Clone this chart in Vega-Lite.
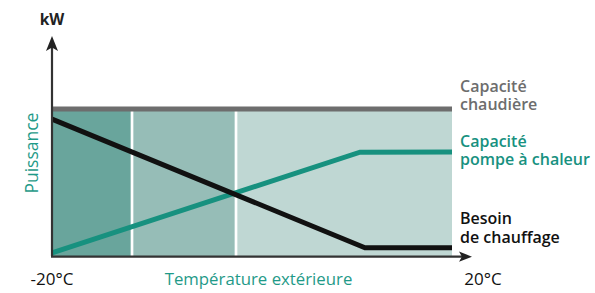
{
  "$schema": "https://vega.github.io/schema/vega-lite/v6.json",
  "width": 420,
  "height": 218,
  "autosize": {"type": "none"},
  "padding": {"left": 52, "top": 38, "right": 123, "bottom": 37},
  "background": "white",
  "config": {"view": {"stroke": null}, "text": {"font": "Open Sans"}},
  "datasets": {
    "zones": [
      {"x": -20, "x2": -12, "y": 0, "y2": 66.5, "s": "a"},
      {"x": -12, "x2": -1.6, "y": 0, "y2": 66.5, "s": "b"},
      {"x": -1.6, "x2": 20, "y": 0, "y2": 66.5, "s": "c"}
    ],
    "seps": [{"x": -12, "y": 0, "y2": 66.5}, {"x": -1.6, "y": 0, "y2": 66.5}],
    "lines": [
      {"s": "chaudiere", "o": 0, "x": -20, "y": 67.4},
      {"s": "chaudiere", "o": 1, "x": 20, "y": 67.4},
      {"s": "pac", "o": 0, "x": -20, "y": 1.4},
      {"s": "pac", "o": 1, "x": 10.8, "y": 47.6},
      {"s": "pac", "o": 2, "x": 20, "y": 47.7},
      {"s": "besoin", "o": 0, "x": -20, "y": 62.8},
      {"s": "besoin", "o": 1, "x": 11.3, "y": 3.8},
      {"s": "besoin", "o": 2, "x": 20, "y": 3.8}
    ],
    "labels": [
      {"s": "chaudiere", "x": 20.8, "y": 75.2, "t": "Capacité"},
      {"s": "chaudiere", "x": 20.8, "y": 67.0, "t": "chaudière"},
      {"s": "pac", "x": 20.8, "y": 50.0, "t": "Capacité"},
      {"s": "pac", "x": 20.8, "y": 41.7, "t": "pompe à chaleur"},
      {"s": "besoin", "x": 20.8, "y": 14.7, "t": "Besoin"},
      {"s": "besoin", "x": 20.8, "y": 6.0, "t": "de chauffage"}
    ],
    "ends": [
      {"x": -20, "y": -13.3, "t": "-20°C"},
      {"x": 23.1, "y": -13.3, "t": "20°C"}
    ],
    "vaxis": [{"x": -20, "y": 0, "y2": 96}],
    "haxis": [{"x": -20.1, "x2": 21, "y": -0.3}]
  },
  "encoding": {
    "x": {"field": "x", "type": "quantitative", "scale": {"domain": [-20, 22], "nice": false, "zero": false}, "axis": null},
    "y": {"field": "y", "type": "quantitative", "scale": {"domain": [0, 100], "nice": false, "zero": false}, "axis": null}
  },
  "layer": [
    {
      "data": {"name": "zones"},
      "mark": {"type": "rect"},
      "encoding": {
        "x2": {"field": "x2"},
        "y2": {"field": "y2"},
        "color": {"field": "s", "type": "nominal", "legend": null, "scale": {"domain": ["a", "b", "c", "chaudiere", "pac", "besoin"], "range": ["#69a59c", "#96bdb7", "#bfd7d3", "#6d6d6d", "#17917f", "#111111"]}}
      }
    },
    {
      "data": {"name": "seps"},
      "mark": {"type": "rule", "color": "white", "strokeWidth": 2.7},
      "encoding": {"y2": {"field": "y2"}}
    },
    {
      "data": {"name": "lines"},
      "transform": [{"filter": "datum.s == 'chaudiere'"}],
      "mark": {"type": "line", "strokeWidth": 5, "strokeCap": "butt"},
      "encoding": {
        "order": {"field": "o"},
        "color": {"field": "s", "type": "nominal", "legend": null, "scale": {"domain": ["a", "b", "c", "chaudiere", "pac", "besoin"], "range": ["#69a59c", "#96bdb7", "#bfd7d3", "#6d6d6d", "#17917f", "#111111"]}}
      }
    },
    {
      "data": {"name": "lines"},
      "transform": [{"filter": "datum.s == 'pac'"}],
      "mark": {"type": "line", "strokeWidth": 5, "strokeCap": "butt"},
      "encoding": {
        "order": {"field": "o"},
        "color": {"field": "s", "type": "nominal", "legend": null, "scale": {"domain": ["a", "b", "c", "chaudiere", "pac", "besoin"], "range": ["#69a59c", "#96bdb7", "#bfd7d3", "#6d6d6d", "#17917f", "#111111"]}}
      }
    },
    {
      "data": {"name": "lines"},
      "transform": [{"filter": "datum.s == 'besoin'"}],
      "mark": {"type": "line", "strokeWidth": 5, "strokeCap": "butt"},
      "encoding": {
        "order": {"field": "o"},
        "color": {"field": "s", "type": "nominal", "legend": null, "scale": {"domain": ["a", "b", "c", "chaudiere", "pac", "besoin"], "range": ["#69a59c", "#96bdb7", "#bfd7d3", "#6d6d6d", "#17917f", "#111111"]}}
      }
    },
    {
      "data": {"name": "vaxis"},
      "mark": {"type": "rule", "color": "#333333", "strokeWidth": 2.2},
      "encoding": {"y2": {"field": "y2"}}
    },
    {
      "data": {"name": "haxis"},
      "mark": {"type": "rule", "color": "#333333", "strokeWidth": 2.2},
      "encoding": {"x2": {"field": "x2"}}
    },
    {
      "data": {"values": [{"x": -20, "y": 97.5}]},
      "mark": {"type": "point", "shape": "M0,-1L-0.8,1L0,0.55L0.8,1Z", "size": 225, "filled": true, "color": "#222222", "opacity": 1},
      "encoding": {}
    },
    {
      "data": {"values": [{"x": 21.35, "y": -0.3}]},
      "mark": {"type": "point", "shape": "M1,0L-1,-0.78L-0.55,0L-1,0.78Z", "size": 169, "filled": true, "color": "#222222", "opacity": 1},
      "encoding": {}
    },
    {
      "data": {"name": "labels"},
      "mark": {"type": "text", "align": "left", "baseline": "alphabetic", "fontSize": 16, "fontWeight": 600},
      "encoding": {
        "text": {"field": "t"},
        "color": {"field": "s", "type": "nominal", "legend": null, "scale": {"domain": ["a", "b", "c", "chaudiere", "pac", "besoin"], "range": ["#69a59c", "#96bdb7", "#bfd7d3", "#6d6d6d", "#17917f", "#111111"]}}
      }
    },
    {
      "data": {"name": "ends"},
      "mark": {"type": "text", "align": "center", "baseline": "alphabetic", "fontSize": 17, "color": "#111111"},
      "encoding": {"text": {"field": "t"}}
    },
    {
      "data": {"values": [{"x": 0.65, "y": -13.3, "t": "Température extérieure"}]},
      "mark": {"type": "text", "align": "center", "baseline": "alphabetic", "fontSize": 16.8, "color": "#1f9a88"},
      "encoding": {"text": {"field": "t"}}
    },
    {
      "data": {"values": [{"x": -21.4, "y": 47.2, "t": "Puissance"}]},
      "mark": {"type": "text", "align": "center", "baseline": "alphabetic", "fontSize": 17.5, "angle": 270, "color": "#1f9a88"},
      "encoding": {"text": {"field": "t"}}
    },
    {
      "data": {"values": [{"x": -20, "y": 106, "t": "kW"}]},
      "mark": {"type": "text", "align": "center", "baseline": "alphabetic", "fontSize": 15.5, "fontWeight": 700, "color": "#222222"},
      "encoding": {"text": {"field": "t"}}
    }
  ]
}
